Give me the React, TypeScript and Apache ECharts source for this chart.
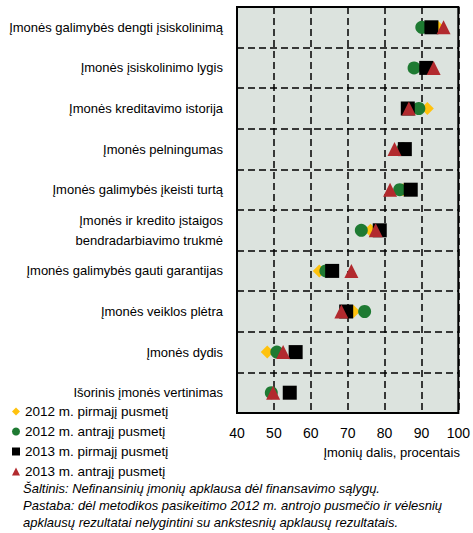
import React, { useEffect, useRef } from "react";
import * as echarts from "echarts";

const categories = [
  "Įmonės galimybės dengti įsiskolinimą",
  "Įmonės įsiskolinimo lygis",
  "Įmonės kreditavimo istorija",
  "Įmonės pelningumas",
  "Įmonės galimybės įkeisti turtą",
  "Įmonės ir kredito įstaigos\nbendradarbiavimo trukmė",
  "Įmonės galimybės gauti garantijas",
  "Įmonės veiklos plėtra",
  "Įmonės dydis",
  "Išorinis įmonės vertinimas",
];

const seriesNames = [
  "2012 m. pirmajį pusmetį",
  "2012 m. antrajį pusmetį",
  "2013 m. pirmajį pusmetį",
  "2013 m. antrajį pusmetį",
];

const h1_2012 = [94.5, 91, 91.6, 85, 85, 76.2, 62.3, 71.6, 48.2, null];
const h2_2012 = [90.1, 88, 89.3, 85, 84.1, 73.7, 64.1, 74.6, 50.8, 49.3];
const h1_2013 = [92.7, 91.3, 86.3, 85.5, 87.1, 78.7, 65.8, 69.6, 55.9, 54.3];
const h2_2013 = [96, 93.3, 86.6, 82.7, 81.5, 77.6, 71, 68.3, 52.5, 49.8];

const xTicks = [40, 50, 60, 70, 80, 90, 100];

const footnotes = [
  "Šaltinis: Nefinansinių įmonių apklausa dėl finansavimo sąlygų.",
  "Pastaba: dėl metodikos pasikeitimo 2012 m. antrojo pusmečio ir vėlesnių",
  "apklausų rezultatai nelygintini su ankstesnių apklausų rezultatais.",
];

const FONT = "Liberation Sans, Arial, sans-serif";

export default function App() {
  const ref = useRef<HTMLDivElement>(null);
  useEffect(() => {
    document.body.style.margin = "0";
    if (!ref.current) return;
    const chart = echarts.init(ref.current, null, { renderer: "svg" });
    const mk = (
      name: string,
      vals: (number | null)[],
      symbol: string,
      size: number,
      color: string,
      z: number
    ) => ({
      name,
      type: "scatter",
      symbol,
      symbolSize: size,
      itemStyle: { color, opacity: 1 },
      z,
      data: vals.map((v, i) => (v == null ? [null, categories[i]] : [v, categories[i]])),
    });
    chart.setOption({
      animation: false,
      textStyle: { fontFamily: FONT },
      grid: {
        left: 237,
        right: 13,
        top: 7,
        bottom: 120,
        show: true,
        backgroundColor: "#DCE3DE",
        borderColor: "#000",
        borderWidth: 2,
        containLabel: false,
      },
      xAxis: {
        type: "value",
        min: xTicks[0],
        max: xTicks[xTicks.length - 1],
        interval: 10,
        axisLine: { show: false },
        axisTick: { show: false },
        axisLabel: { color: "#000", fontSize: 14, margin: 13, fontFamily: FONT },
        splitLine: { show: true, lineStyle: { color: "#000", type: [7, 4], width: 1.5 } },
      },
      yAxis: {
        type: "category",
        data: categories,
        inverse: true,
        axisLine: { show: false },
        axisTick: { show: false },
        axisLabel: {
          color: "#000",
          fontSize: 13,
          margin: 14,
          lineHeight: 20,
          fontFamily: FONT,
        },
        splitLine: { show: true, lineStyle: { color: "#000", type: [7, 4], width: 1.5 } },
      },
      legend: {
        orient: "vertical",
        left: 12,
        top: 404,
        itemWidth: 8,
        itemHeight: 8,
        itemGap: 5,
        textStyle: { color: "#000", fontSize: 13.5, lineHeight: 15, fontFamily: FONT },
        padding: 0,
        data: seriesNames,
      },
      graphic: [
        {
          type: "text",
          style: {
            text: "Įmonių dalis, procentais",
            x: 460,
            y: 452,
            textAlign: "right",
            textVerticalAlign: "middle",
            fontSize: 13,
            fontFamily: FONT,
            fill: "#000",
          },
        },
        ...footnotes.map((t, i) => ({
          type: "text",
          style: {
            text: t,
            x: 23,
            y: 488 + i * 17,
            textVerticalAlign: "middle",
            fontSize: 13,
            fontStyle: "italic",
            fontFamily: FONT,
            fill: "#000",
          },
        })),
      ],
      series: [
        mk(seriesNames[0], h1_2012, "diamond", 13, "#FFC20E", 2),
        mk(seriesNames[1], h2_2012, "circle", 13, "#1E7A32", 3),
        mk(seriesNames[2], h1_2013, "rect", 14, "#000000", 4),
        mk(seriesNames[3], h2_2013, "triangle", 14, "#B22A2E", 5),
      ],
    });
    return () => chart.dispose();
  }, []);
  return <div ref={ref} style={{ width: 473, height: 533 }} />;
}
